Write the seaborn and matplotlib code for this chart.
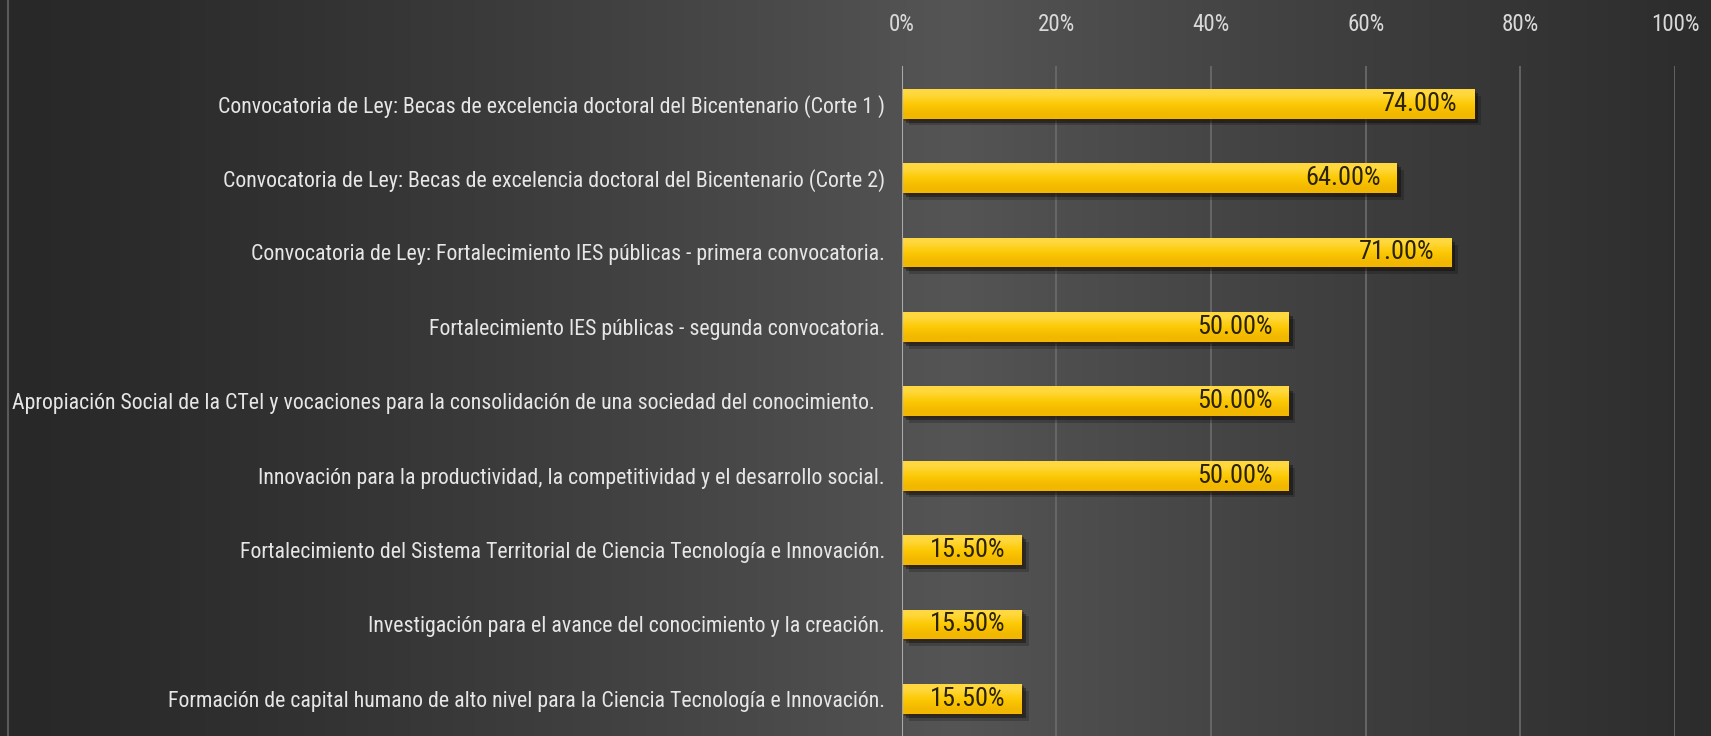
# Barras horizontales - convocatorias
import numpy as np
import pandas as pd
import matplotlib
matplotlib.use("Agg")
import matplotlib.pyplot as plt
import matplotlib.patheffects as pe
from matplotlib import font_manager
import seaborn as sns

# Datos
Categorias = [
    "Convocatoria de Ley: Becas de excelencia doctoral del Bicentenario (Corte 1 )",
    "Convocatoria de Ley: Becas de excelencia doctoral del Bicentenario (Corte 2)",
    "Convocatoria de Ley: Fortalecimiento IES públicas - primera convocatoria.",
    "Fortalecimiento IES públicas - segunda convocatoria.",
    "Apropiación Social de la CTeI y vocaciones para la consolidación de una sociedad del conocimiento.  ",
    "Innovación para la productividad, la competitividad y el desarrollo social.",
    "Fortalecimiento del Sistema Territorial de Ciencia Tecnología e Innovación.",
    "Investigación para el avance del conocimiento y la creación.",
    "Formación de capital humano de alto nivel para la Ciencia Tecnología e Innovación.",
]
Valores = [0.74, 0.64, 0.71, 0.50, 0.50, 0.50, 0.155, 0.155, 0.155]
Ticks = [0, 0.2, 0.4, 0.6, 0.8, 1.0]
Tick_Labels = ["0%", "20%", "40%", "60%", "80%", "100%"]

Base_Dados = pd.DataFrame({"cat": Categorias, "val": Valores})

sns.set_style("white")

# Fuente estrecha si existe
Disponibles = {f.name for f in font_manager.fontManager.ttflist}
Fuente = "Liberation Sans"
for nombre in ["DejaVu Sans Condensed", "Roboto Condensed", "Open Sans Condensed",
               "Liberation Sans Narrow", "Arial Narrow", "Liberation Sans"]:
    if nombre in Disponibles:
        Fuente = nombre
        break
plt.rcParams["font.family"] = [Fuente, "DejaVu Sans"]

fig = plt.figure(figsize=(17.11, 7.36), dpi=100)

# Fondo con degradado
bg = fig.add_axes([0, 0, 1, 1], zorder=-10)
xs = np.linspace(0, 1, 400)
izq = np.array([0x28, 0x28, 0x28]) / 255
cen = np.array([0x55, 0x55, 0x55]) / 255
der = np.array([0x2c, 0x2c, 0x2c]) / 255
grad = np.zeros((1, 400, 3))
for i, x in enumerate(xs):
    if x < 0.56:
        t = x / 0.56
        grad[0, i] = izq + (cen - izq) * t ** 1.3
    else:
        t = (x - 0.56) / 0.44
        grad[0, i] = cen + (der - cen) * t ** 0.9
bg.imshow(grad, aspect="auto", extent=(0, 1, 0, 1))
bg.axvline(0.0045, color="#5a5a5a", lw=1.5)
bg.set_xlim(0, 1)
bg.set_ylim(0, 1)
bg.axis("off")

# Grafico
ax = fig.add_axes([0.527, 0.0, 0.452, 0.9097])
ax.set_facecolor("none")
sns.barplot(data=Base_Dados, x="val", y="cat", orient="h", color="#f9c400",
            width=0.4, linewidth=0, ax=ax, zorder=3)

# Degradado y sombra en barras
g_bar = np.array([[1.0, 0.85, 0.25], [0.99, 0.79, 0.02], [0.95, 0.72, 0.0]]).reshape(3, 1, 3)
for p in ax.patches:
    p.set_path_effects([
        pe.SimplePatchShadow(offset=(5, -5), shadow_rgbFace="black", alpha=0.2),
        pe.SimplePatchShadow(offset=(3, -3), shadow_rgbFace="black", alpha=0.35),
        pe.SimplePatchShadow(offset=(1.5, -1.5), shadow_rgbFace="#3a2000", alpha=0.5),
        pe.Normal()])
    x0, y0 = p.get_x(), p.get_y()
    w, h = p.get_width(), p.get_height()
    im = ax.imshow(g_bar, aspect="auto", extent=(x0, x0 + w, y0 + h, y0), zorder=4,
                   interpolation="bilinear")
    im.set_clip_path(p)

Etiquetas = []
for p, v in zip(ax.patches, Valores):
    t = ax.text(p.get_x() + p.get_width() - 0.021, p.get_y() + p.get_height() / 2,
                f"{v * 100:.2f}%", ha="right", va="center", fontsize=15,
                color="#2b2200", zorder=6)
    Etiquetas.append(t)

ax.set_xlim(0, 1.0)
ax.set_ylim(8.5, -0.5)
ax.set_xticks(Ticks)
ax.set_xticklabels(Tick_Labels)
ax.xaxis.tick_top()
ax.tick_params(axis="x", length=0, pad=22, labelsize=15, labelcolor="#d9d9d9")
ax.tick_params(axis="y", length=0, pad=12, labelsize=15, labelcolor="#e6e6e6")
ax.set_xlabel("")
ax.set_ylabel("")
for s in ax.spines.values():
    s.set_visible(False)
for t in Ticks[1:]:
    ax.axvline(t, color="#6c6c6c", lw=1.2, zorder=1)
ax.axvline(0, color="#a8a8a8", lw=1.5, zorder=5)

# Ajustar tamaño de letra para que la etiqueta más larga quepa
fig.canvas.draw()
r = fig.canvas.get_renderer()
ancho = max(l.get_window_extent(r).width for l in ax.get_yticklabels())
tam = min(18, 15 * 878 / ancho)
ax.tick_params(axis="y", labelsize=tam)
ax.tick_params(axis="x", labelsize=tam * 1.05)
for t in Etiquetas:
    t.set_fontsize(tam * 1.2)

fig.savefig("out.png", dpi=100)
